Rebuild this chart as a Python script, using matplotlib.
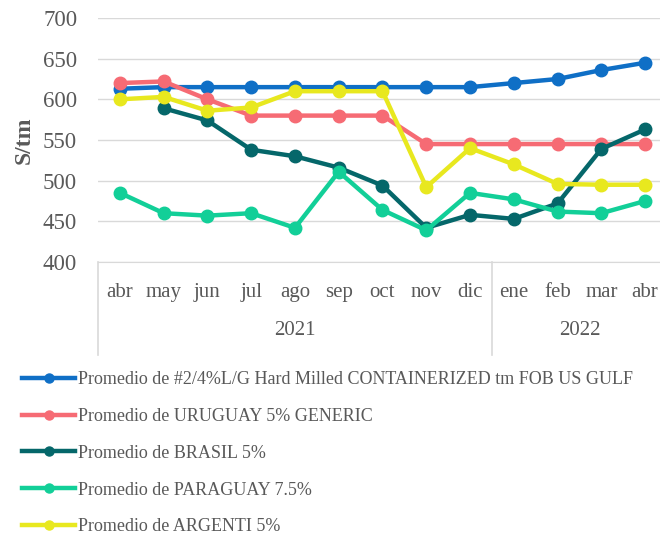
import matplotlib.pyplot as plt
from matplotlib.lines import Line2D

plt.rcParams['font.family'] = ['Liberation Serif', 'DejaVu Serif']

meses = ['abr', 'may', 'jun', 'jul', 'ago', 'sep', 'oct', 'nov', 'dic',
         'ene', 'feb', 'mar', 'abr']
anios = ['2021', '2022']
n_2021 = 9  # abr..dic

us_gulf = [613, 615, 615, 615, 615, 615, 615, 615, 615, 620, 625, 636, 645]
uruguay = [620, 622, 600, 580, 580, 580, 580, 545, 545, 545, 545, 545, 545]
brasil = [None, 589, 574, 538, 530, 516, 494, 442, 458, 453, 472, 539, 563]
paraguay = [485, 460, 457, 460, 442, 511, 464, 439, 485, 477, 462, 460, 475]
argenti = [600, 603, 586, 590, 610, 610, 610, 492, 540, 520, 496, 495, 495]

series = [
    ('Promedio de #2/4%L/G Hard Milled CONTAINERIZED tm FOB US GULF', us_gulf, '#0F6FC6'),
    ('Promedio de URUGUAY 5% GENERIC', uruguay, '#F66B74'),
    ('Promedio de BRASIL 5%', brasil, '#05676A'),
    ('Promedio de PARAGUAY 7.5%', paraguay, '#12CF98'),
    ('Promedio de ARGENTI 5%', argenti, '#E8E81F'),
]

grey = '#595959'
grid = '#D9D9D9'

fig = plt.figure(figsize=(6.6, 5.36), dpi=100)
ax = fig.add_axes([98 / 660, 1 - 262 / 536, 569 / 660, 244 / 536])

x = list(range(len(meses)))
handles = []
for i, (name, vals, col) in enumerate(series):
    xs = [a for a, v in zip(x, vals) if v is not None]
    ys = [v for v in vals if v is not None]
    ax.plot(xs, ys, color=col, lw=3.2, marker='o', ms=9, zorder=3 + i)
    handles.append(Line2D([], [], color=col, lw=3.2, marker='o', ms=6.5))

ax.set_xlim(-0.5, len(meses) - 0.5)
ax.set_ylim(400, 700)
ax.set_yticks(range(400, 701, 50))
ax.grid(axis='y', color=grid, lw=1)
ax.set_axisbelow(True)
for s in ['top', 'right', 'left']:
    ax.spines[s].set_visible(False)
ax.spines['bottom'].set_color(grid)
ax.tick_params(axis='y', length=0, labelsize=16.5, labelcolor=grey, pad=15)
ax.set_xticks([])
ax.set_ylabel('S/tm', fontsize=17, fontweight='bold', color=grey, labelpad=6)

# category table below the axis
tr = ax.get_xaxis_transform()
for xv in [-0.5, n_2021 - 0.5, len(meses) - 0.5]:
    ax.plot([xv, xv], [0, -0.38], transform=tr, color=grid, lw=1.2, clip_on=False)
for xi, m in zip(x, meses):
    ax.text(xi, -0.125, m, transform=tr, ha='center', va='center',
            fontsize=15, color=grey)
ax.text((n_2021 - 1) / 2, -0.28, anios[0], transform=tr, ha='center',
        va='center', fontsize=15, color=grey)
ax.text((n_2021 + len(meses) - 1) / 2, -0.28, anios[1], transform=tr,
        ha='center', va='center', fontsize=15, color=grey)

fig.legend(handles, [s[0] for s in series], loc='upper left',
           bbox_to_anchor=(13 / 660, 1 - 362 / 536), frameon=False,
           fontsize=13, labelcolor=grey, handlelength=2.95,
           handletextpad=0.15, labelspacing=1.1, borderpad=0)

fig.savefig('out.png', dpi=100)
